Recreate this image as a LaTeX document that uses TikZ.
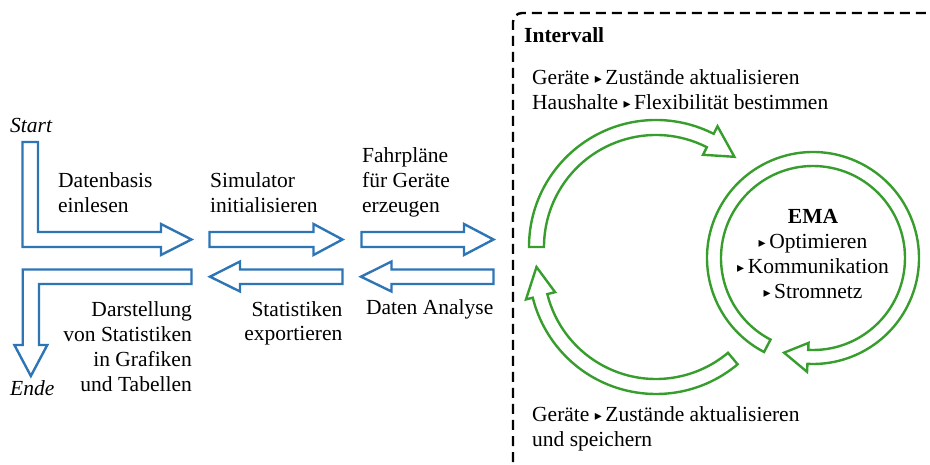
\documentclass[tikz,border=0pt]{standalone}
\usepackage{fontspec}
\setmainfont{Liberation Serif}
\newfontfamily\symfont{DejaVu Sans}
\newcommand{\tri}{\raisebox{1pt}{\symfont\fontsize{14}{14}\selectfont ▸}}
\definecolor{arrowblue}{RGB}{46,117,182}
\definecolor{cyclegreen}{RGB}{55,158,45}
\begin{document}
\begin{tikzpicture}[x=1pt,y=1pt,
  blueshape/.style={draw=arrowblue, line width=2.4pt, fill=white},
  greenshape/.style={draw=cyclegreen, line width=2.4pt, fill=white},
  lbl/.style={inner sep=0pt, font=\fontsize{21.5}{25}\selectfont},
  framebox/.style={draw=black, line width=2.4pt, dash pattern=on 10pt off 6pt, rounded corners=9pt}]
\useasboundingbox (0,0) rectangle (930,464);
\begin{scope}
\clip (0,0) rectangle (930,464);
\draw[framebox] (513,-30) -- (513,451) -- (980,451);
\end{scope}
% blue process arrows
\draw[blueshape] (22.5,322) -- (38,322) -- (38,232) -- (161,232) -- (161,240) -- (191.5,224.5) -- (161,209) -- (161,217) -- (22.5,217) -- cycle;
\draw[blueshape] (209.5,232) -- (313.5,232) -- (313.5,240) -- (342.5,224.5) -- (313.5,209) -- (313.5,217) -- (209.5,217) -- cycle;
\draw[blueshape] (361.5,232) -- (464,232) -- (464,240) -- (493.5,224.5) -- (464,209) -- (464,217) -- (361.5,217) -- cycle;
\draw[blueshape] (493.5,194.5) -- (391.5,194.5) -- (391.5,202.5) -- (361,187.3) -- (391.5,172.5) -- (391.5,180) -- (493.5,180) -- cycle;
\draw[blueshape] (342.5,194.5) -- (240,194.5) -- (240,202.5) -- (210,187.3) -- (240,172.5) -- (240,180) -- (342.5,180) -- cycle;
\draw[blueshape] (191.5,194.5) -- (22.7,194.5) -- (22.7,119) -- (14.4,119) -- (30.85,88) -- (47.3,119) -- (39,119) -- (39,180) -- (191.5,180) -- cycle;
% green cycle
\coordinate (c1) at (656,217);
\coordinate (c2) at (656,197);
\coordinate (c3) at (813,206);
\draw[greenshape] ([shift={(c1)}]180:127) arc[start angle=180, end angle=63, radius=127]
  -- ([shift={(c1)}]63:135.5) -- ([shift={(c1)}]49:119.5) -- ([shift={(c1)}]63:103.5)
  -- ([shift={(c1)}]63:112) arc[start angle=63, end angle=180, radius=112] -- cycle;
\draw[greenshape] ([shift={(c2)}]-50:127) arc[start angle=-50, end angle=-166, radius=127]
  -- ([shift={(c2)}]-166:134) -- ([shift={(c2)}]-180:119.5) -- ([shift={(c2)}]-166:104)
  -- ([shift={(c2)}]-166:112) arc[start angle=-166, end angle=-50, radius=112] -- cycle;
\draw[greenshape] ([shift={(c3)}]242.5:106) arc[start angle=242.5, end angle=-93, radius=106]
  -- ([shift={(c3)}]-93:114) -- ([shift={(c3)}]-107:99) -- ([shift={(c3)}]-93:85)
  -- ([shift={(c3)}]-93:92) arc[start angle=-93, end angle=242.5, radius=92] -- cycle;
% labels (base anchor = baseline of last line)
\node[lbl, anchor=base west] (start) at (10,331) {\itshape Start};
\node[lbl, anchor=base west] (ende) at (10,68) {\itshape Ende};
\node[lbl, anchor=base west, align=left] (datenbasis) at (58,251) {Datenbasis\\einlesen};
\node[lbl, anchor=base west, align=left] (simulator) at (210,251) {Simulator\\initialisieren};
\node[lbl, anchor=base west, align=left] (fahrplaene) at (362,251) {Fahrpläne\\für Geräte\\erzeugen};
\node[lbl, anchor=base east, align=right] (darstellung) at (192,72.3) {Darstellung\\von Statistiken\\in Grafiken\\und Tabellen};
\node[lbl, anchor=base east, align=right] (statistiken) at (342.5,123) {Statistiken\\exportieren};
\node[lbl, anchor=base east, align=right] (analyse) at (493.5,149) {Daten Analyse};
\node[lbl, anchor=base west] (intervall) at (524,421) {\bfseries Intervall};
\node[lbl, anchor=base west, align=left] (toptext) at (532,354.7) {Geräte \tri\,Zustände aktualisieren\\Haushalte \tri\,Flexibilität bestimmen};
\node[lbl, anchor=base west, align=left] (bottomtext) at (532,17.3) {Geräte \tri\,Zustände aktualisieren\\und speichern};
\node[lbl, anchor=base, align=center] (ema) at (813,165) {\bfseries EMA\\\tri\,Optimieren\\\tri\,Kommunikation\\\tri\,Stromnetz};
\end{tikzpicture}
\end{document}
